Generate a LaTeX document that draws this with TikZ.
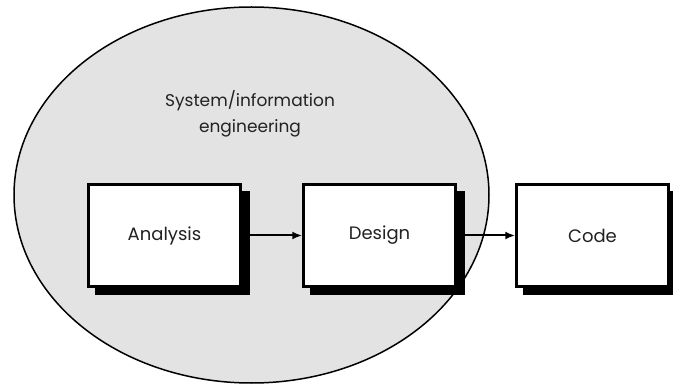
\documentclass[tikz,border=0pt]{standalone}
\usepackage{fontspec}
\setmainfont{Poppins}
\usetikzlibrary{shapes.geometric,arrows.meta}
\definecolor{scope}{HTML}{E3E3E3}
\definecolor{ink}{HTML}{222222}
\tikzset{
  phase/.style={draw=black, line width=2.5pt, fill=white, minimum width=152pt,
    minimum height=102pt, inner sep=0pt, font=\fontsize{18}{20}\selectfont, text=ink},
  flow/.style={line width=2pt, -{Latex[length=10pt,width=8pt]}},
  shade/.style={fill=black}
}
\newcommand{\shadowbox}[1]{%
  \fill[shade] ([xshift=7.5pt,yshift=-8pt]#1.north west) rectangle ([xshift=8.5pt,yshift=-7pt]#1.south east);}
\begin{document}
\begin{tikzpicture}[x=1pt,y=-1pt]
  \useasboundingbox (0,0) rectangle (673,385);
  % scope of system/information engineering
  \node[ellipse, draw=black, line width=1.5pt, fill=scope, minimum width=475pt,
    minimum height=376pt, inner sep=0pt] (sie) at (251.5,195) {};
  \node[align=center, font=\fontsize{17}{26}\selectfont, text=ink] (lbl) at (250,114)
    {System/information\\engineering};
  % the three phases
  \node[phase] (an) at (164.5,235.5) {Analysis};
  \node[phase] (de) at (379.5,235.5) {Design};
  \node[phase] (co) at (592.5,235.5) {Code};
  \shadowbox{an}
  \shadowbox{de}
  \shadowbox{co}
  \node[phase] at (an) {Analysis};
  \node[phase] at (de) {Design};
  \node[phase] at (co) {Code};
  % flow between phases, leaving from the shadow edge
  \coordinate (anout) at ([xshift=8.5pt]an.east);
  \coordinate (deout) at ([xshift=8.5pt]de.east);
  \draw[flow] (anout) -- (de.west);
  \draw[flow] (deout) -- (co.west);
\end{tikzpicture}
\end{document}
